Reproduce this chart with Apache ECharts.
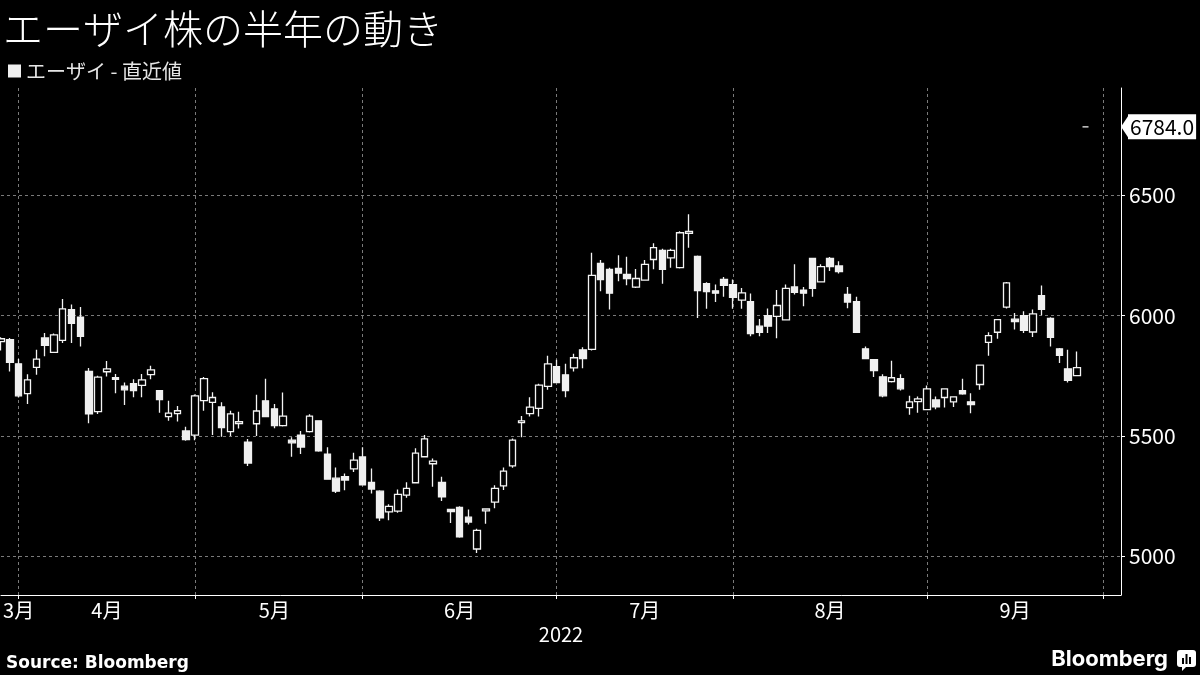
<!DOCTYPE html>
<html>
<head>
<meta charset="utf-8">
<script src="https://cdn.jsdelivr.net/npm/echarts@6/dist/echarts.min.js"></script>
<style>
html,body{margin:0;padding:0;background:#000;}
#chart{width:1200px;height:675px;}
</style>
</head>
<body>
<div id="chart"></div>
<script>
// ---- data ----
const titleText = 'エーザイ株の半年の動き';
const seriesName = 'エーザイ - 直近値';
const yearLabel = '2022';
const sourceText = 'Source: Bloomberg';
const brandText = 'Bloomberg';

const dates = [
'2022-03-30','2022-03-31',
'2022-04-01','2022-04-04','2022-04-05','2022-04-06','2022-04-07','2022-04-08','2022-04-11','2022-04-12','2022-04-13','2022-04-14',
'2022-04-15','2022-04-18','2022-04-19','2022-04-20','2022-04-21','2022-04-22','2022-04-25','2022-04-26','2022-04-27','2022-04-28',
'2022-05-02','2022-05-06','2022-05-09','2022-05-10','2022-05-11','2022-05-12','2022-05-13','2022-05-16','2022-05-17','2022-05-18',
'2022-05-19','2022-05-20','2022-05-23','2022-05-24','2022-05-25','2022-05-26','2022-05-27','2022-05-30','2022-05-31',
'2022-06-01','2022-06-02','2022-06-03','2022-06-06','2022-06-07','2022-06-08','2022-06-09','2022-06-10','2022-06-13','2022-06-14',
'2022-06-15','2022-06-16','2022-06-17','2022-06-20','2022-06-21','2022-06-22','2022-06-23','2022-06-24','2022-06-27','2022-06-28',
'2022-06-29','2022-06-30',
'2022-07-01','2022-07-04','2022-07-05','2022-07-06','2022-07-07','2022-07-08','2022-07-11','2022-07-12','2022-07-13','2022-07-14',
'2022-07-15','2022-07-19','2022-07-20','2022-07-21','2022-07-22','2022-07-25','2022-07-26','2022-07-27','2022-07-28','2022-07-29',
'2022-08-01','2022-08-02','2022-08-03','2022-08-04','2022-08-05','2022-08-08','2022-08-09','2022-08-10','2022-08-12','2022-08-15',
'2022-08-16','2022-08-17','2022-08-18','2022-08-19','2022-08-22','2022-08-23','2022-08-24','2022-08-25','2022-08-26','2022-08-29',
'2022-08-30','2022-08-31',
'2022-09-01','2022-09-02','2022-09-05','2022-09-06','2022-09-07','2022-09-08','2022-09-09','2022-09-12','2022-09-13','2022-09-14',
'2022-09-15','2022-09-16','2022-09-20','2022-09-21','2022-09-22','2022-09-26','2022-09-27','2022-09-28','2022-09-29','2022-09-30',
'2022-10-03','2022-10-04','2022-10-05'
];

const openP = [
5892,5900,5800,5676,5785,5907,5847,5897,6025,5994,
5768,5601,5767,5742,5707,5717,5710,5755,5688,5581,
5593,5521,5504,5647,5640,5621,5518,5552,5475,5551,
5646,5613,5543,5483,5504,5518,5563,5425,5325,5331,
5364,5413,5308,5271,5185,5188,5255,5306,5414,5385,
5308,5195,5204,5163,5031,5189,5226,5293,5376,5556,
5593,5615,5706,5788,5754,5783,5858,5860,6217,6192,
6196,6171,6118,6147,6233,6271,6240,6199,6342,6246,
6133,6103,6150,6129,6064,6058,5956,6000,5997,5982,
6119,6106,6238,6140,6238,6206,6088,6058,5862,5817,
5746,5726,5738,5618,5643,5610,5650,5660,5642,5688,
5642,5714,5889,5931,6035,5985,6000,5932,6083,5988,
5862,5779,5751,6784
];
const closeP = [
5904,5806,5667,5733,5819,5876,5920,6028,5968,5914,
5592,5745,5779,5735,5692,5689,5733,5775,5651,5595,
5605,5485,5667,5738,5660,5535,5592,5560,5388,5604,
5581,5543,5583,5472,5454,5583,5438,5321,5271,5317,
5400,5297,5280,5160,5208,5258,5283,5429,5488,5396,
5247,5186,5081,5143,5108,5197,5283,5354,5483,5563,
5620,5711,5800,5722,5689,5825,5822,6167,6150,6093,
6176,6154,6154,6213,6282,6192,6271,6344,6350,6104,
6100,6093,6126,6076,6094,5925,5931,5956,6042,6113,
6097,6093,6113,6203,6203,6183,6056,5931,5821,5772,
5667,5742,5696,5642,5654,5696,5621,5696,5663,5675,
5630,5794,5917,5983,6136,5975,5939,6007,6026,5910,
5835,5731,5784,6784
];
const lowP = [
5855,5768,5660,5633,5754,5831,5845,5886,5886,5872,
5553,5592,5747,5678,5629,5661,5661,5736,5597,5563,
5560,5480,5483,5605,5504,5497,5500,5531,5376,5500,
5578,5532,5540,5414,5425,5515,5435,5318,5264,5275,
5351,5295,5261,5147,5150,5181,5244,5303,5412,5289,
5230,5139,5078,5133,5014,5136,5200,5276,5368,5495,
5581,5581,5692,5720,5661,5768,5781,5855,6101,6025,
6143,6126,6115,6145,6192,6132,6199,6196,6282,5990,
6028,6056,6078,6028,6028,5914,5914,5928,5906,5980,
6088,6039,6078,6138,6185,6175,6031,5929,5819,5745,
5661,5722,5689,5588,5597,5608,5611,5618,5621,5671,
5595,5692,5833,5904,6029,5942,5928,5911,6001,5872,
5803,5722,5749,6784
];
const highP = [
5910,5907,5820,5757,5858,5928,5926,6069,6046,6036,
5782,5750,5812,5758,5722,5736,5758,5792,5690,5647,
5625,5539,5672,5745,5682,5640,5605,5601,5488,5671,
5738,5633,5681,5495,5521,5590,5566,5453,5369,5344,
5431,5453,5365,5275,5217,5278,5308,5449,5504,5407,
5331,5197,5208,5195,5115,5200,5296,5369,5490,5583,
5661,5717,5833,5817,5800,5842,5869,6261,6231,6199,
6251,6244,6194,6231,6300,6278,6278,6350,6421,6250,
6139,6129,6160,6150,6115,6092,5986,6029,6106,6129,
6213,6119,6240,6213,6243,6226,6119,6078,5872,5819,
5757,5813,5757,5667,5664,5710,5664,5698,5665,5738,
5678,5796,5931,5985,6140,6011,6018,6025,6125,5993,
5865,5858,5851,6784
];

const yTicks = [5000, 5500, 6000, 6500];
const yMin = 4840, yMax = 6945;

// ---- derived ----
const candleData = dates.map((d, i) =>
  i < openP.length ? [openP[i], closeP[i], lowP[i], highP[i]] : '-');
const lastClose = closeP[closeP.length - 1];
const monthOf = d => parseInt(d.slice(5, 7), 10);

// first trading day of each month (gridlines / ticks)
const monthStarts = [];
dates.forEach((d, i) => { if (i > 0 && monthOf(d) !== monthOf(dates[i - 1])) monthStarts.push(i); });
const gridIdx = new Set(monthStarts);

// month labels centred in each month span; the first (partial) month keeps its label inside the plot
const segStarts = [0].concat(monthStarts);
const labelMap = new Map();
for (let k = 0; k < segStarts.length - 1; k++) {
  const s = segStarts[k], e = segStarts[k + 1];
  if (s >= openP.length) break;
  const idx = k === 0 ? e : Math.floor((s + e) / 2);
  labelMap.set(idx, monthOf(dates[s]) + '月');
}

const JP = "'Noto Sans CJK JP', 'Noto Sans', sans-serif";
const gridColor = '#7a7a7a';

const chart = echarts.init(document.getElementById('chart'), null, {renderer: 'canvas'});

const option = {
  backgroundColor: '#000',
  animation: false,
  title: {
    text: titleText, left: 3, top: 9, padding: 0,
    textStyle: {color: '#fff', fontSize: 40, fontWeight: 300, fontFamily: JP}
  },
  legend: {
    data: [{name: seriesName, itemStyle: {color: '#f0f0f0', borderWidth: 0}}],
    left: 8, top: 61, padding: 0, icon: 'rect', itemWidth: 13, itemHeight: 13,
    selectedMode: false,
    textStyle: {color: '#e6e6e6', fontSize: 20, fontFamily: JP}
  },
  grid: {left: 1, right: 79, top: 88, bottom: 80, containLabel: false},
  xAxis: {
    type: 'category', data: dates, boundaryGap: false,
    axisLine: {show: true, lineStyle: {color: '#fff', width: 1}},
    axisTick: {show: true, interval: i => gridIdx.has(i), length: 4, lineStyle: {color: '#fff'}},
    axisLabel: {
      interval: i => labelMap.has(i),
      formatter: (v, i) => labelMap.get(i) || '',
      color: '#fff', fontSize: 20, margin: 5, fontFamily: JP
    },
    splitLine: {show: true, interval: i => gridIdx.has(i), lineStyle: {color: gridColor, type: [3, 3], width: 1}},
    name: yearLabel, nameLocation: 'middle', nameGap: 29,
    nameTextStyle: {color: '#fff', fontSize: 20, fontFamily: JP}
  },
  yAxis: [{
    type: 'value', position: 'right', min: yMin, max: yMax,
    axisLine: {show: true, lineStyle: {color: '#fff', width: 1}},
    axisTick: {show: true, customValues: yTicks, length: 4, lineStyle: {color: '#fff'}},
    axisLabel: {customValues: yTicks, formatter: v => String(v), color: '#fff', fontSize: 21, margin: 8, fontFamily: JP},
    splitLine: {show: true, lineStyle: {color: gridColor, type: [3, 3], width: 1}}
  }, {
    type: 'value', position: 'right', min: yMin, max: yMax,
    axisLine: {show: false}, axisTick: {show: false}, splitLine: {show: false},
    axisLabel: {
      customValues: [lastClose], formatter: v => Number(v).toFixed(1),
      color: '#000', backgroundColor: '#fff', padding: [2, 2, 2, 2],
      fontSize: 21, margin: 7, fontFamily: JP
    }
  }],
  series: [{
    name: seriesName, type: 'candlestick', data: candleData, yAxisIndex: 0,
    barWidth: 7,
    itemStyle: {
      color: '#000', borderColor: '#f4f4f4',
      color0: '#f0f0f0', borderColor0: '#f0f0f0',
      borderWidth: 1.3
    }
  }],
  graphic: []
};
chart.setOption(option);

// pointer of the last-value tag, placed through the chart's own scales
const tipY = chart.convertToPixel({yAxisIndex: 0}, lastClose);
const tipX = chart.convertToPixel({xAxisIndex: 0}, dates[dates.length - 1]);
chart.setOption({
  graphic: [
    {type: 'polygon', z: 100, shape: {points: [[tipX, tipY], [tipX + 8, tipY - 12], [tipX + 8, tipY + 12]]}, style: {fill: '#fff'}},
    {type: 'text', left: 6, top: 655, z: 100, style: {text: sourceText, fill: '#fff', font: "bold 17px 'DejaVu Sans'"}},
    {type: 'text', right: 32, top: 648, z: 100, style: {text: brandText, fill: '#fff', font: "bold 22px Inter"}},
    {type: 'group', right: 4, top: 650, z: 100, children: [
      {type: 'rect', shape: {x: 0, y: 0, width: 19, height: 17, r: 3}, style: {fill: '#fff'}},
      {type: 'polygon', shape: {points: [[5, 16], [10, 16], [5, 21]]}, style: {fill: '#fff'}},
      {type: 'rect', shape: {x: 5, y: 8, width: 2, height: 6}, style: {fill: '#000'}},
      {type: 'rect', shape: {x: 8.5, y: 4, width: 2, height: 10}, style: {fill: '#000'}},
      {type: 'rect', shape: {x: 12, y: 7, width: 2, height: 7}, style: {fill: '#000'}}
    ]}
  ]
});
</script>
</body>
</html>
